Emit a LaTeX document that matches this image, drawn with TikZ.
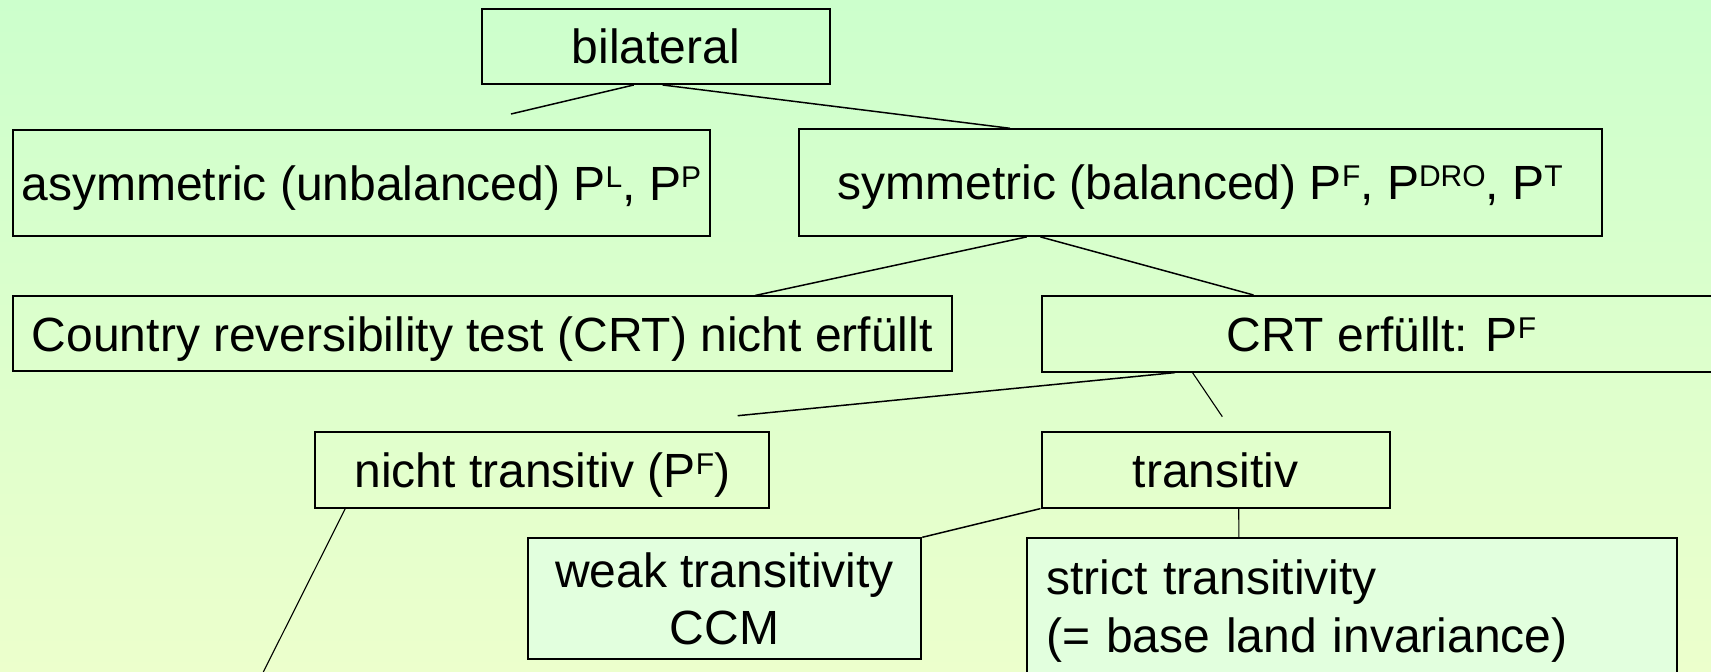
\documentclass[tikz,border=0pt]{standalone}
\usepackage{fontspec}
\setmainfont{Liberation Sans}
\definecolor{bgtop}{RGB}{204,255,204}
\definecolor{bgbot}{RGB}{236,255,204}
\definecolor{boxlight}{RGB}{226,255,222}
\newcommand\mysup[1]{\raisebox{0.27em}{\fontsize{15}{15}\selectfont #1}}
\begin{document}
\begin{tikzpicture}[x=0.5pt,y=-0.5pt,
  box/.style={draw=black, line width=1pt, rectangle, inner sep=0pt, anchor=north west,
    font=\fontsize{24}{28.8}\selectfont, text height=17.3pt, text depth=0pt},
  multibox/.style={draw=black, line width=1pt, rectangle, inner sep=0pt, anchor=north west,
    font=\fontsize{24}{28.8}\selectfont, fill=boxlight},
  conn/.style={line width=0.75pt, black},
  thinconn/.style={line width=0.55pt, black}]
\shade[top color=bgtop, bottom color=bgbot] (0,0) rectangle (1711,672);
\useasboundingbox (0,0) rectangle (1711,672);

\node[box, minimum width=174pt, minimum height=37.5pt] (bil) at (481,8) {bilateral};
\node[box, minimum width=348.3pt, minimum height=53pt] (asym) at (12,129) {asymmetric (unbalanced) P\mysup{L}, P\mysup{P}};
\node[box, minimum width=401.3pt, minimum height=53.3pt] (sym) at (798,128.3) {symmetric (balanced) P\mysup{F}, P\mysup{DRO}, P\mysup{T}};
\node[box, minimum width=469.3pt, minimum height=37.5pt] (crtno) at (12,295.5) {Country reversibility test (CRT) nicht erfüllt};
\node[box, minimum width=339.8pt, minimum height=37.8pt] (crt) at (1040.5,295) {CRT erfüllt: P\mysup{F}};
\node[box, minimum width=227pt, minimum height=37.8pt] (nt) at (314.3,431) {nicht transitiv (P\mysup{F})};
\node[box, minimum width=174.1pt, minimum height=37.8pt] (tr) at (1040.5,431) {transitiv};
\node[multibox, minimum width=196.9pt, minimum height=60.5pt, align=center] (weak) at (526.5,537.3) {weak transitivity\\CCM};
\node[multibox, inner xsep=9.7pt, text width=305.6pt, minimum height=72.8pt, align=left] (strict) at (1025.7,537) {strict transitivity\\(= base land invariance)};

\coordinate (f1) at (511,114);
\coordinate (f2) at (737.7,415.7);
\coordinate (f3) at (1222.3,416.7);
\coordinate (f4) at (263.3,672);

\draw[conn] ([xshift=-11.15pt]bil.south) -- (f1);
\draw[conn] ([xshift=3.35pt]bil.south) -- ([xshift=-95.15pt]sym.north);
\draw[conn] ([xshift=-86.8pt]sym.south) -- ([xshift=136.4pt]crtno.north);
\draw[conn] ([xshift=-79.95pt]sym.south) -- ([xshift=-63.9pt]crt.north);
\draw[conn] ([xshift=-103.1pt]crt.south) -- (f2);
\draw[thinconn] ([xshift=-94.4pt]crt.south) -- (f3);
\draw[thinconn] ([xshift=-98.5pt]nt.south) -- (f4);
\draw[conn] (tr.south west) -- (weak.north east);
\draw[thinconn] ([xshift=11.55pt]tr.south) -- ([xshift=-56.4pt]strict.north);
\end{tikzpicture}
\end{document}
